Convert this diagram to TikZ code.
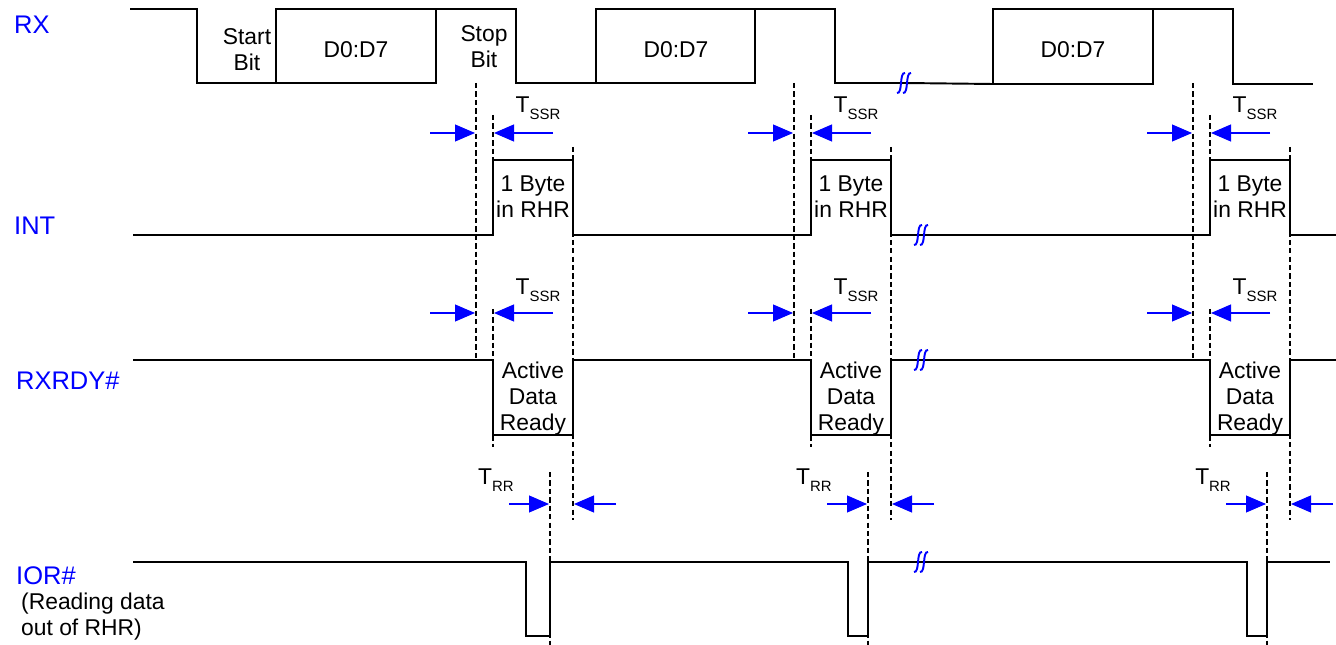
\documentclass[tikz,border=0pt]{standalone}
\usepackage{fontspec}
\setmainfont{Liberation Sans}
\usetikzlibrary{arrows.meta}

\newcommand{\tlab}[1]{T\raisebox{-4pt}{\fontsize{8.5}{9}\selectfont #1}}

\begin{document}
\begin{tikzpicture}[x=0.02cm, y=-0.02cm,
    wave/.style={line width=1.1pt},
    guide/.style={line width=0.9pt, dash pattern=on 3pt off 1.8pt},
    tarrow/.style={blue, line width=0.6pt, -{Triangle[length=0.4cm, width=0.34cm]}},
    sig/.style={blue, anchor=west, font=\fontsize{14.5}{17}\selectfont},
    txt/.style={align=center, font=\fontsize{13}{14.8}\selectfont},
    squig/.pic={\draw[blue, line width=1.1pt] (-8,10) .. controls (-2,11) and (-6,-11) .. (0,-10)
                                              (-2,10) .. controls (4,11) and (0,-11) .. (6,-10);}]
        \useasboundingbox (0,0) rectangle (1336,645);

        % signal names
        \node[sig] (rx) at (8,25) {RX};
        \node[sig] (int) at (8,226) {INT};
        \node[sig] (rxrdy) at (10,381) {RXRDY\#};
        \node[sig] (ior) at (10,576) {IOR\#};
        \node[txt, anchor=west, align=left] (iornote) at (15,617) {(Reading data\\out of RHR)};

        % RX
        \draw[wave] (130,9) -- (197,9) -- (197,83) -- (276,83);
        \draw[wave] (276,9) rectangle (436,83);
        \draw[wave] (436,9) -- (516,9) -- (516,83) -- (596,83);
        \draw[wave] (596,9) rectangle (755,83);
        \draw[wave] (755,9) -- (835,9) -- (835,83) -- (905,83) -- (993,84);
        \draw[wave] (993,9) rectangle (1153,84);
        \draw[wave] (1153,9) -- (1233,9) -- (1233,84) -- (1313,84);
        \node[txt] (start) at (247,50) {Start\\Bit};
        \node[txt] (stop) at (484,47) {Stop\\Bit};
        \node[txt] (data1) at (356,50) {D0:D7};
        \node[txt] (data2) at (676,50) {D0:D7};
        \node[txt] (data3) at (1073,50) {D0:D7};

        % INT
        \draw[wave] (133,235) -- (493,235) -- (493,160) -- (573,160) -- (573,235)
            -- (811,235) -- (811,160) -- (891,160) -- (891,235)
            -- (1210,235) -- (1210,160) -- (1290,160) -- (1290,235) -- (1336,235);

        % RXRDY#
        \draw[wave] (133,360) -- (493,360) -- (493,435) -- (573,435) -- (573,360)
            -- (811,360) -- (811,435) -- (891,435) -- (891,360)
            -- (1210,360) -- (1210,435) -- (1290,435) -- (1290,360) -- (1336,360);

        % IOR#
        \draw[wave] (133,562) -- (526,562) -- (526,636) -- (550,636) -- (550,562)
            -- (848,562) -- (848,636) -- (868,636) -- (868,562)
            -- (1247,562) -- (1247,636) -- (1267,636) -- (1267,562) -- (1330,562);

        % breaks
        \pic at (905,83) {squig};
        \pic at (922,235) {squig};
        \pic at (922,360) {squig};
        \pic at (922,562) {squig};

        % one received byte
        \foreach \dx/\n in {0/1, 318/2, 717/3} {
            \draw[guide] (476+\dx,83) -- (476+\dx,360);
            \draw[guide] (493+\dx,115) -- (493+\dx,235);
            \draw[guide] (493+\dx,309) -- (493+\dx,447);
            \draw[guide] (573+\dx,147) -- (573+\dx,520);
            \draw[guide] (550+\dx,472) -- (550+\dx,645);

            \node[txt] (byte\n) at (533+\dx,197) {1 Byte\\in RHR};
            \node[txt] (ready\n) at (533+\dx,399) {Active\\Data\\Ready};

            % T_SSR
            \draw[tarrow] (430+\dx,133) -- (475+\dx,133);
            \draw[tarrow] (553+\dx,133) -- (494+\dx,133);
            \node[txt] (tssra\n) at (538+\dx,108) {\tlab{SSR}};
            \draw[tarrow] (430+\dx,313) -- (475+\dx,313);
            \draw[tarrow] (553+\dx,313) -- (494+\dx,313);
            \node[txt] (tssrb\n) at (538+\dx,290) {\tlab{SSR}};

            % T_RR
            \draw[tarrow] (509+\dx,504) -- (549+\dx,504);
            \draw[tarrow] (616+\dx,504) -- (574+\dx,504);
            \node[txt] (trr\n) at (496+\dx,480) {\tlab{RR}};
        }

      \end{tikzpicture}
\end{document}
